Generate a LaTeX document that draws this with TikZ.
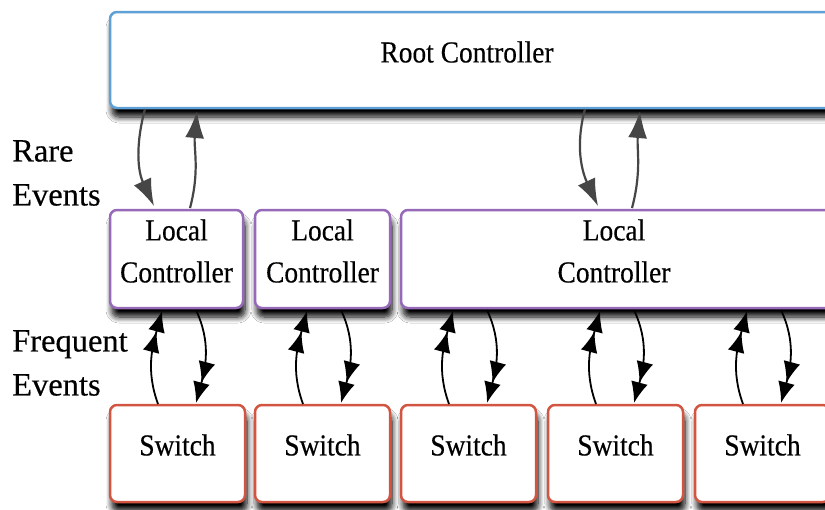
\documentclass[tikz,border=0pt]{standalone}
\usepackage{fontspec}
\setmainfont{Liberation Serif}[FakeBold=0.4]
\usetikzlibrary{arrows.meta,shadows,shadows.blur}
\definecolor{rootblue}{RGB}{95,160,215}
\definecolor{lcpurple}{RGB}{150,105,185}
\definecolor{swred}{RGB}{210,85,65}
\definecolor{ggray}{RGB}{70,70,70}
\tikzset{
  boxbase/.style={draw, line width=2.5pt, rounded corners=7pt, fill=white,
    blur shadow={shadow xshift=2pt, shadow yshift=-9pt, shadow opacity=100, shadow blur radius=6pt, shadow blur steps=8}},
  rootbox/.style={boxbase, draw=rootblue},
  lcbox/.style={boxbase, draw=lcpurple},
  swbox/.style={boxbase, draw=swred},
  boxtext/.style={font=\fontsize{30.5}{42}\selectfont, align=center, xscale=0.9, transform shape},
  sidelabel/.style={font=\fontsize{32.5}{44}\selectfont, align=left, anchor=north west, inner sep=0pt},
  rootarrow/.style={draw=ggray, line width=2.2pt, -{Latex[length=27pt,width=19pt]}},
  lcarrow/.style={draw=black, line width=1.8pt, -{Latex[length=21pt,width=17pt] Latex[length=21pt,width=17pt]}}
}
\begin{document}
\begin{tikzpicture}[x=1pt,y=-1pt]
\clip (0,0) rectangle (825,509);
\fill[white] (0,0) rectangle (825,509);
% boxes
\draw[rootbox] (110,12) rectangle (840,108);
\node[boxtext] (root) at (467,52) {Root Controller};
\draw[lcbox] (110,210) rectangle (243,308);
\draw[lcbox] (255,210) rectangle (390,308);
\draw[lcbox] (401,210) rectangle (840,308);
\node[boxtext] (lc1) at (176.5,251) {Local\\Controller};
\node[boxtext] (lc2) at (322.5,251) {Local\\Controller};
\node[boxtext] (lc3) at (614,251) {Local\\Controller};
\foreach \xl/\nm in {110/s1,255/s2,401/s3,548/s4,695/s5}{
  \draw[swbox] (\xl,405) rectangle (\xl+135,502);
  \node[boxtext] (\nm) at (\xl+67.5,445) {Switch};
}
% coordinates
\coordinate (r1d) at (145,109);
\coordinate (l1d) at (154,206);
\coordinate (l1u) at (190,208);
\coordinate (r1u) at (197,111);
\coordinate (r2d) at (585,109);
\coordinate (l3d) at (598,206);
\coordinate (l3u) at (632,208);
\coordinate (r2u) at (640,111);
\draw[rootarrow] (r1d) to[out=-105,in=115] (l1d);
\draw[rootarrow] (l1u) to[out=75,in=-95] (r1u);
\draw[rootarrow] (r2d) to[out=-105,in=115] (l3d);
\draw[rootarrow] (l3u) to[out=75,in=-95] (r2u);
\foreach \xl in {110,255,401,548,695}{
  \coordinate (su) at (\xl+48,404);
  \coordinate (lu) at (\xl+52,311);
  \coordinate (ld) at (\xl+86,310);
  \coordinate (sd) at (\xl+86,403);
  \draw[lcarrow] (su) to[out=110,in=-105] (lu);
  \draw[lcarrow] (ld) to[out=-65,in=75] (sd);
}
% side labels
\node[sidelabel] (rare) at (12,140) {Rare\\Events};
\node[sidelabel] (freq) at (12,330) {Frequent\\Events};
\end{tikzpicture}
\end{document}
